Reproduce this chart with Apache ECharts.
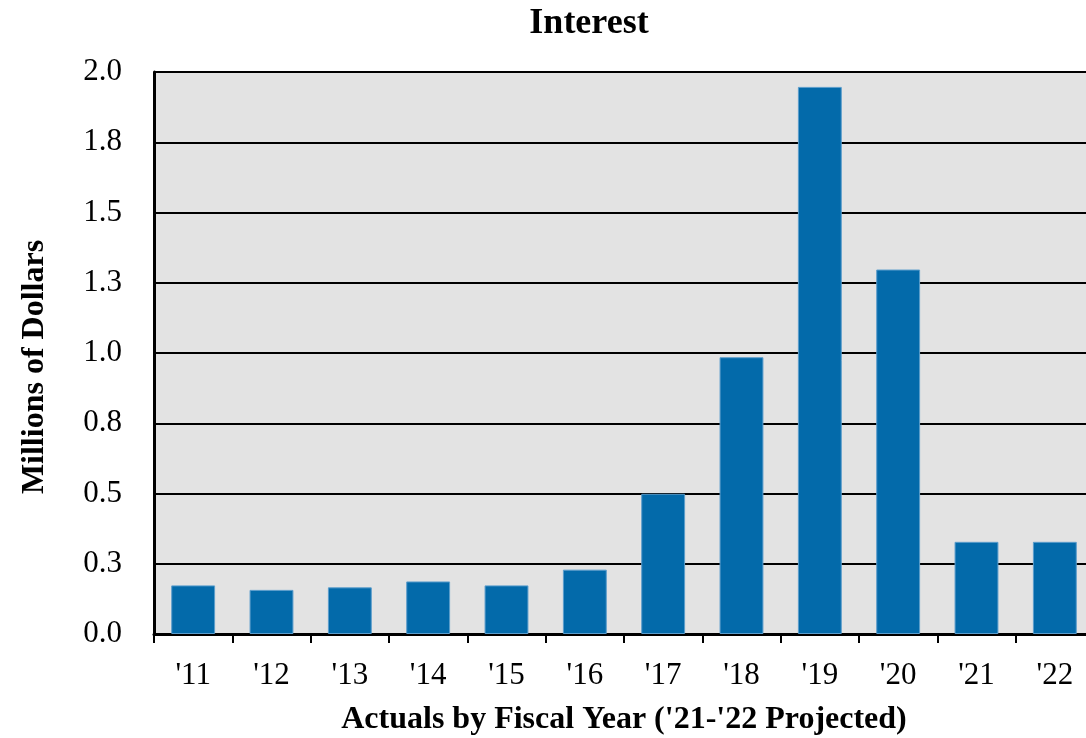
<!DOCTYPE html>
<html>
<head>
<meta charset="utf-8">
<script src="https://cdn.jsdelivr.net/npm/echarts@6/dist/echarts.min.js"></script>
<style>
  html, body { margin: 0; padding: 0; background: #ffffff; }
  #chart { width: 1086px; height: 738px; }
</style>
</head>
<body>
<div id="chart"></div>
<script>
// Fiscal years shown on the category axis
const years = ["'11", "'12", "'13", "'14", "'15", "'16", "'17", "'18", "'19", "'20", "'21", "'22"];
// Interest, millions of dollars
const interest = [0.173, 0.157, 0.166, 0.187, 0.173, 0.229, 0.499, 0.985, 1.947, 1.297, 0.328, 0.328];
// Value-axis labels, one per 0.25 step (rounded to one decimal)
const yTickLabels = ['0.0', '0.3', '0.5', '0.8', '1.0', '1.3', '1.5', '1.8', '2.0'];
const yStep = 0.25;

const serif = 'Liberation Serif';
const chart = echarts.init(document.getElementById('chart'), null, { renderer: 'canvas' });

chart.setOption({
  animation: false,
  backgroundColor: '#ffffff',
  title: {
    text: 'Interest',
    left: 584,
    textAlign: 'center',
    top: 1,
    textStyle: { fontFamily: serif, fontWeight: 'bold', fontSize: 36, color: '#000' }
  },
  // The plot runs a few pixels past the right edge of the canvas
  grid: {
    left: 154,
    top: 72,
    width: 940,
    height: 562,
    outerBoundsMode: 'none',
    show: true,
    backgroundColor: '#e3e3e3',
    borderWidth: 0,
    containLabel: false
  },
  // Rotated value-axis title, placed a little below the plot's middle
  graphic: [{
    type: 'text',
    x: 35,
    y: 367,
    rotation: Math.PI / 2,
    style: {
      text: 'Millions of Dollars',
      font: 'bold 32px "' + serif + '"',
      fill: '#000',
      align: 'center',
      verticalAlign: 'middle'
    }
  }],
  xAxis: {
    type: 'category',
    data: years,
    boundaryGap: true,
    name: "Actuals by Fiscal Year ('21-'22 Projected)",
    nameLocation: 'middle',
    nameGap: 70,
    nameTextStyle: { fontFamily: serif, fontWeight: 'bold', fontSize: 32, color: '#000', align: 'center' },
    axisLine: { show: true, lineStyle: { color: '#000', width: 3 } },
    axisTick: { show: true, alignWithLabel: false, length: 9, lineStyle: { color: '#000', width: 2 } },
    axisLabel: { fontFamily: serif, fontSize: 31, color: '#000', margin: 26 },
    splitLine: { show: false }
  },
  yAxis: {
    type: 'value',
    min: 0,
    max: 2,
    interval: yStep,
    axisLine: { show: true, lineStyle: { color: '#000', width: 3 } },
    axisTick: { show: false },
    axisLabel: {
      fontFamily: serif, fontSize: 31, color: '#000', margin: 32,
      formatter: function (v) { return yTickLabels[Math.round(v / yStep)]; }
    },
    splitLine: { show: true, lineStyle: { color: '#000', width: 2 } }
  },
  series: [{
    type: 'bar',
    data: interest,
    barWidth: '56%',
    itemStyle: { color: '#036aaa', borderColor: '#5b9dcc', borderWidth: 1 }
  }]
});
</script>
</body>
</html>
